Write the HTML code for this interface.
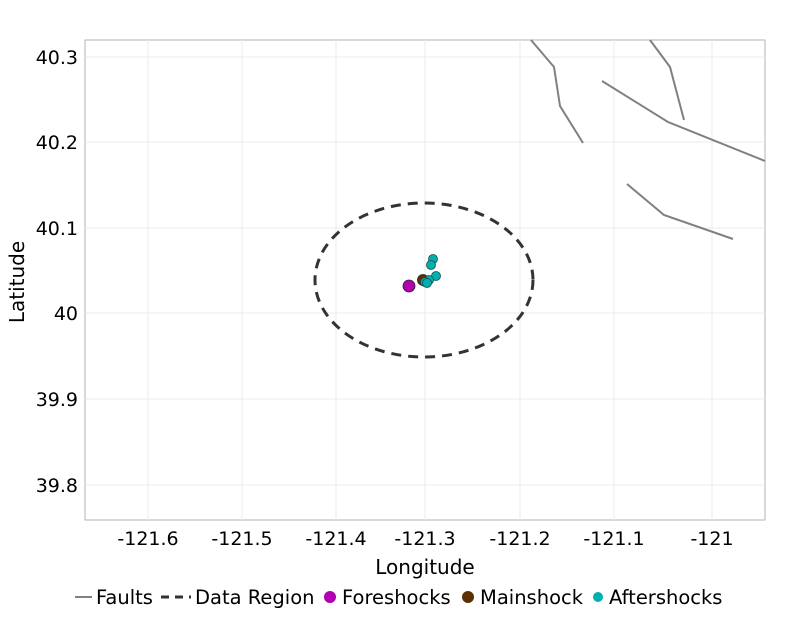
<!DOCTYPE html>
<html><head><meta charset="utf-8"><style>
body{margin:0;background:#fff;}
svg text{font-family:"DejaVu Sans","Liberation Sans",sans-serif;}
</style></head><body>
<svg width="800" height="612" xmlns="http://www.w3.org/2000/svg">
<rect x="85" y="40" width="680" height="480" fill="#fff" stroke="#b3b3b3" stroke-width="1"/>
<g stroke="#ebebeb" stroke-width="1">
<line x1="148" y1="40" x2="148" y2="520"/><line x1="242" y1="40" x2="242" y2="520"/>
<line x1="336" y1="40" x2="336" y2="520"/><line x1="425" y1="40" x2="425" y2="520"/>
<line x1="520" y1="40" x2="520" y2="520"/><line x1="614" y1="40" x2="614" y2="520"/>
<line x1="712" y1="40" x2="712" y2="520"/>
<line x1="85" y1="57" x2="765" y2="57"/><line x1="85" y1="142" x2="765" y2="142"/>
<line x1="85" y1="228" x2="765" y2="228"/><line x1="85" y1="313" x2="765" y2="313"/>
<line x1="85" y1="399" x2="765" y2="399"/><line x1="85" y1="485" x2="765" y2="485"/>
</g>
<g stroke="#808080" stroke-width="2" fill="none">
<polyline points="531,40 554,67 560,106 583,143"/>
<polyline points="650,40 670,67 684,120"/>
<polyline points="602,81 668,122 765,161"/>
<polyline points="627,184 664,215 733,239"/>
</g>
<ellipse cx="424" cy="280" rx="109" ry="77" fill="none" stroke="#333" stroke-width="3" stroke-dasharray="10,7"/>
<circle cx="409" cy="286" r="6" fill="#b000b0" stroke="#222" stroke-width="0.8"/>
<circle cx="423" cy="280" r="5.5" fill="#5c3000" stroke="#222" stroke-width="0.8"/>
<g fill="#00b0b0" stroke="#1a4a4a" stroke-width="0.8">
<circle cx="433" cy="259" r="4.5"/><circle cx="431" cy="265" r="4.5"/><circle cx="436" cy="276" r="4.5"/>
<circle cx="429" cy="280" r="4.5"/><circle cx="425" cy="282" r="4.5"/><circle cx="427" cy="283" r="4.5"/>
</g>
<g font-size="19" fill="#000" text-anchor="end">
<text x="78" y="64">40.3</text><text x="78" y="149">40.2</text><text x="78" y="235">40.1</text>
<text x="78" y="320">40</text><text x="78" y="406">39.9</text><text x="78" y="492">39.8</text>
</g>
<g font-size="19" fill="#000" text-anchor="middle">
<text x="148" y="545">-121.6</text><text x="242" y="545">-121.5</text><text x="336" y="545">-121.4</text>
<text x="425" y="545">-121.3</text><text x="520" y="545">-121.2</text><text x="614" y="545">-121.1</text>
<text x="712" y="545">-121</text>
<text x="425" y="574" font-size="20">Longitude</text>
</g>
<text transform="translate(24,282) rotate(-90)" font-size="20" text-anchor="middle">Latitude</text>
<g font-size="19.5" fill="#000">
<line x1="75" y1="597" x2="92" y2="597" stroke="#808080" stroke-width="2"/>
<text x="96" y="604">Faults</text>
<line x1="161" y1="597" x2="191" y2="597" stroke="#333" stroke-width="3" stroke-dasharray="8,6"/>
<text x="195" y="604">Data Region</text>
<circle cx="330" cy="597" r="6" fill="#b000b0"/>
<text x="342" y="604">Foreshocks</text>
<circle cx="468" cy="597" r="6" fill="#5c3000"/>
<text x="480" y="604">Mainshock</text>
<circle cx="598" cy="597" r="5" fill="#00b0b0"/>
<text x="609" y="604">Aftershocks</text>
</g>
</svg>
</body></html>
